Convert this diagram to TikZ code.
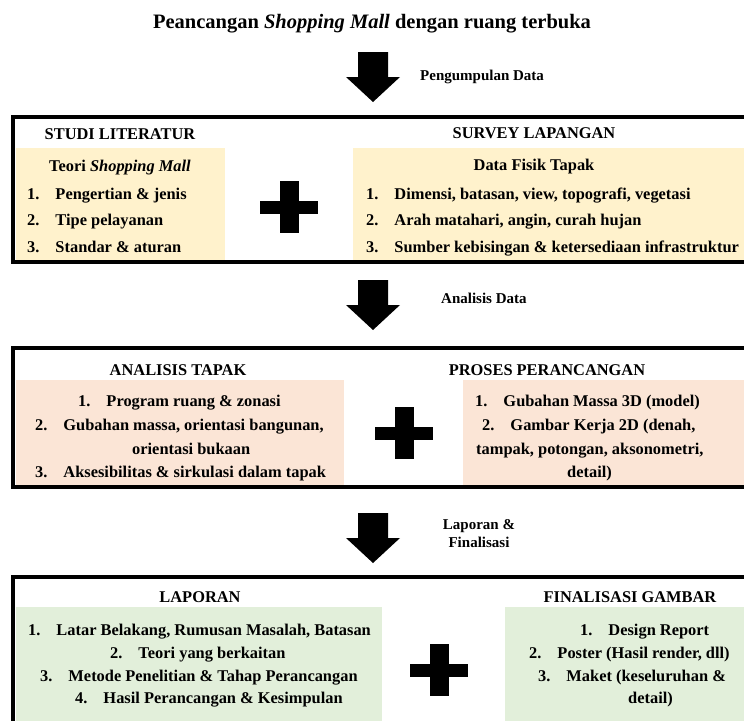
\documentclass[tikz,border=0pt]{standalone}
\usepackage{fontspec}
\setmainfont{Liberation Serif}
\usetikzlibrary{positioning}
\definecolor{litfill}{RGB}{255,242,204}
\definecolor{anafill}{RGB}{251,229,214}
\definecolor{repfill}{RGB}{226,239,218}
\newcommand{\itemno}[1]{#1.\hspace{16pt}}
\tikzset{
	stage/.style={
		draw=black,
		line width=4pt,
	},
	titletext/.style={
		font=\fontsize{20.5}{24}\selectfont\bfseries,
		inner sep=0pt,
		anchor=base,
	},
	colhead/.style={
		font=\fontsize{16.4}{19}\selectfont\bfseries,
		inner sep=0pt,
		anchor=base,
	},
	listrow/.style={
		font=\fontsize{16.4}{19}\selectfont\bfseries,
		inner sep=0pt,
		anchor=base west,
	},
	steplabel/.style={
		font=\fontsize{15}{18}\selectfont\bfseries,
		inner sep=0pt,
		align=center,
	},
	bigarrow/.pic={
		\fill[black] (-15,0) -- (15,0) -- (15,25) -- (27,25) -- (0,50) -- (-27,25) -- (-15,25) -- cycle;
	},
	plussign/.pic={
		\fill[black] (-29,-6.5) rectangle (29,6.5);
		\fill[black] (-9.5,-26) rectangle (9.5,26);
	},
}

\begin{document}
\begin{tikzpicture}[x=1pt,y=-1pt]
	\useasboundingbox (0,0) rectangle (744,720);
	\clip (0,0) rectangle (744,720);

	\node [titletext] (title) at (372,28) {Peancangan \textit{Shopping Mall} dengan ruang terbuka};

	% pengumpulan data
	\coordinate (arrA) at (373,52);
	\pic at (arrA) {bigarrow};
	\node [steplabel,anchor=base west] (lblA) at (420,80) {Pengumpulan Data};

	\fill [litfill] (16,148) rectangle (225,260);
	\fill [litfill] (353,148) rectangle (760,260);
	\draw [stage] (13,117) rectangle (780,262);
	\pic at (289,207) {plussign};

	\node [colhead] (litHead) at (120,139) {STUDI LITERATUR};
	\node [colhead] (litSub) at (120,171) {Teori \textit{Shopping Mall}};
	\node [listrow] (litA) at (27,199) {\itemno{1}Pengertian \& jenis};
	\node [listrow] (litB) at (27,225) {\itemno{2}Tipe pelayanan};
	\node [listrow] (litC) at (27,252) {\itemno{3}Standar \& aturan};

	\node [colhead] (surHead) at (534,138) {SURVEY LAPANGAN};
	\node [colhead] (surSub) at (534,170) {Data Fisik Tapak};
	\node [listrow] (surA) at (366,199) {\itemno{1}Dimensi, batasan, view, topografi, vegetasi};
	\node [listrow] (surB) at (366,225) {\itemno{2}Arah matahari, angin, curah hujan};
	\node [listrow] (surC) at (366,252) {\itemno{3}Sumber kebisingan \& ketersediaan infrastruktur};

	% analisis data
	\coordinate (arrB) at (373,280);
	\pic at (arrB) {bigarrow};
	\node [steplabel,anchor=base west] (lblB) at (441,303) {Analisis Data};

	\fill [anafill] (16,380) rectangle (344,485);
	\fill [anafill] (463,380) rectangle (760,485);
	\draw [stage] (13,348) rectangle (780,487);
	\pic at (404,433) {plussign};

	\node [colhead] (anaHead) at (178,375) {ANALISIS TAPAK};
	\node [listrow] (anaA) at (78,406) {\itemno{1}Program ruang \& zonasi};
	\node [listrow] (anaB) at (35,430) {\itemno{2}Gubahan massa, orientasi bangunan,};
	\node [listrow] (anaC) at (132,454) {orientasi bukaan};
	\node [listrow] (anaD) at (35,477) {\itemno{3}Aksesibilitas \& sirkulasi dalam tapak};

	\node [colhead] (prosHead) at (547,375) {PROSES PERANCANGAN};
	\node [listrow] (prosA) at (475,406) {\itemno{1}Gubahan Massa 3D (model)};
	\node [listrow] (prosB) at (482,430) {\itemno{2}Gambar Kerja 2D (denah,};
	\node [listrow] (prosC) at (476,454) {tampak, potongan, aksonometri,};
	\node [listrow] (prosD) at (567,477) {detail)};

	% laporan & finalisasi
	\coordinate (arrC) at (373,513);
	\pic at (arrC) {bigarrow};
	\node [steplabel] (lblC) at (479,534) {Laporan \&\\Finalisasi};

	\fill [repfill] (16,607) rectangle (382,760);
	\fill [repfill] (505,607) rectangle (760,760);
	\draw [stage] (13,577) rectangle (780,780);
	\pic at (439,670) {plussign};

	\node [colhead] (repHead) at (200,602) {LAPORAN};
	\node [listrow] (repA) at (28,635) {\itemno{1}Latar Belakang, Rumusan Masalah, Batasan};
	\node [listrow] (repB) at (110,658) {\itemno{2}Teori yang berkaitan};
	\node [listrow] (repC) at (40,681) {\itemno{3}Metode Penelitian \& Tahap Perancangan};
	\node [listrow] (repD) at (75,703) {\itemno{4}Hasil Perancangan \& Kesimpulan};

	\node [colhead] (finHead) at (630,602) {FINALISASI GAMBAR};
	\node [listrow] (finA) at (580,635) {\itemno{1}Design Report};
	\node [listrow] (finB) at (529,658) {\itemno{2}Poster (Hasil render, dll)};
	\node [listrow] (finC) at (538,681) {\itemno{3}Maket (keseluruhan \&};
	\node [listrow] (finD) at (628,703) {detail)};
\end{tikzpicture}
\end{document}
